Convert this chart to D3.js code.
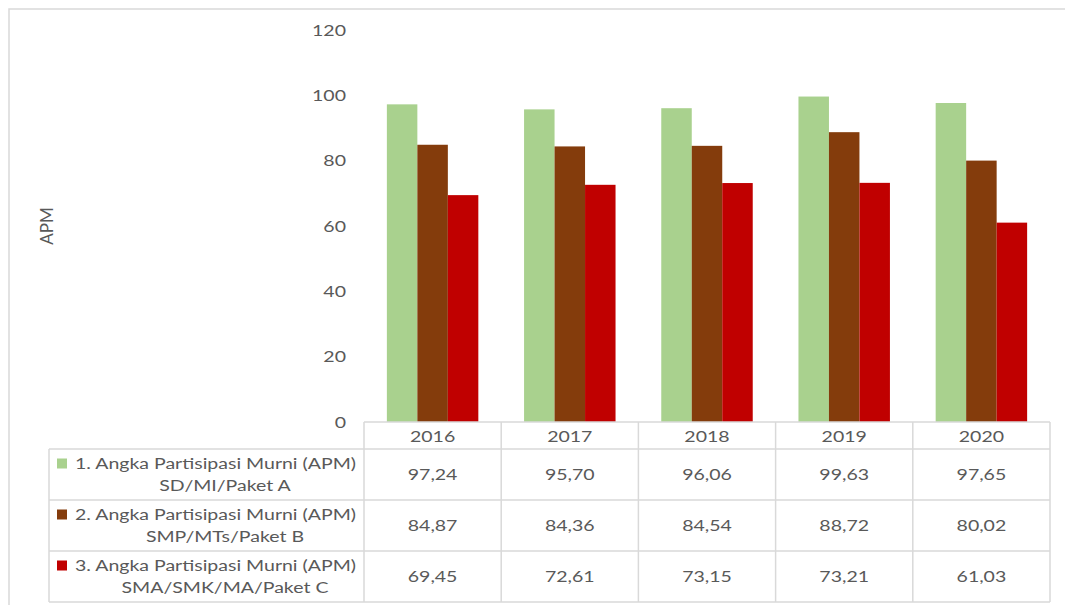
<!DOCTYPE html>
<html>
<head>
<meta charset="utf-8">
<script src="https://cdn.jsdelivr.net/npm/d3@7"></script>
<style>
  body { margin: 0; background: #fff; }
  svg { display: block; }
  text { font-family: Lato, "Open Sans", "Liberation Sans", sans-serif; fill: #595959; }
</style>
</head>
<body>
<svg id="chart" width="1065" height="605"></svg>
<script>
// Net enrolment rate (APM) by school level, 2016-2020
const years = ["2016", "2017", "2018", "2019", "2020"];
const seriesLabels = [
  ["1. Angka Partisipasi Murni (APM)", "SD/MI/Paket A"],
  ["2. Angka Partisipasi Murni (APM)", "SMP/MTs/Paket B"],
  ["3. Angka Partisipasi Murni (APM)", "SMA/SMK/MA/Paket C"]
];
const apmSD = [97.24, 95.70, 96.06, 99.63, 97.65];
const apmSMP = [84.87, 84.36, 84.54, 88.72, 80.02];
const apmSMA = [69.45, 72.61, 73.15, 73.21, 61.03];
const yTicks = [0, 20, 40, 60, 80, 100, 120];
const axisTitle = "APM";

const seriesValues = [apmSD, apmSMP, apmSMA];
const colors = ["#A9D18E", "#843C0C", "#C00000"];
const gridColor = "#D9D9D9";
const SX = 1.22;      // horizontal text stretch
const FS = 16;        // table / tick font size

const svg = d3.select("#chart");
const fmt = d3.formatLocale({ decimal: ",", thousands: ".", grouping: [3], currency: ["", ""] }).format(".2f");

// chart frame
svg.append("rect")
  .attr("x", 9).attr("y", 9).attr("width", 1100).attr("height", 700)
  .attr("fill", "none").attr("stroke", gridColor).attr("stroke-width", 1.5);

const plotLeft = 364, plotRight = 1050, plotTop = 30, plotBottom = 422;
const x = d3.scaleBand().domain(years).range([plotLeft, plotRight]);
const y = d3.scaleLinear().domain([0, 120]).range([plotBottom, plotTop]);

// clustered bars: gap width 150% of a bar
const groupW = x.bandwidth() * 3 / 4.5;
const xs = d3.scaleBand().domain(d3.range(seriesValues.length)).range([0, groupW]);
const groupOffset = (x.bandwidth() - groupW) / 2;

function label(parent, px, py, str, anchor) {
  return parent.append("text")
    .attr("transform", `translate(${px},${py}) scale(${SX},1)`)
    .attr("text-anchor", anchor)
    .attr("dy", "0.35em")
    .attr("font-size", FS)
    .text(str);
}

// y axis tick labels
const yAxis = svg.append("g");
yTicks.forEach(t => label(yAxis, 346, y(t), String(t), "end"));

// axis title
svg.append("text")
  .attr("transform", "translate(47,226) rotate(-90)")
  .attr("text-anchor", "middle")
  .attr("dy", "0.35em")
  .attr("font-size", 17)
  .text(axisTitle);

// bars
seriesValues.forEach((vals, si) => {
  svg.append("g").selectAll("rect")
    .data(vals)
    .join("rect")
    .attr("x", (d, i) => x(years[i]) + groupOffset + xs(si))
    .attr("width", xs.bandwidth())
    .attr("y", d => y(d))
    .attr("height", d => y(0) - y(d))
    .attr("fill", colors[si]);
});

// data table
const headerBottom = 449;
const rowH = 51;
const tableLeft = 49;
const tableBottom = headerBottom + rowH * seriesValues.length;
const grid = svg.append("g").attr("stroke", gridColor).attr("stroke-width", 1.5).attr("fill", "none");

// header row top (category axis line)
grid.append("line").attr("x1", plotLeft).attr("x2", plotRight).attr("y1", plotBottom).attr("y2", plotBottom);
// row separators
d3.range(seriesValues.length + 1).forEach(r => {
  const yy = headerBottom + r * rowH;
  grid.append("line").attr("x1", tableLeft).attr("x2", plotRight).attr("y1", yy).attr("y2", yy);
});
// left edge of legend column
grid.append("line").attr("x1", tableLeft).attr("x2", tableLeft).attr("y1", headerBottom).attr("y2", tableBottom);
// column separators
years.concat([null]).forEach((yr, i) => {
  const xx = yr === null ? plotRight : x(yr);
  grid.append("line").attr("x1", xx).attr("x2", xx).attr("y1", plotBottom).attr("y2", tableBottom);
});

// year headers
years.forEach(yr => label(svg, x(yr) + x.bandwidth() / 2, (plotBottom + headerBottom) / 2 + 0.5, yr, "middle"));

// rows: legend key, series name, values
seriesValues.forEach((vals, si) => {
  const top = headerBottom + si * rowH;
  svg.append("rect")
    .attr("x", 57).attr("y", top + 14.5 - 5).attr("width", 10).attr("height", 10)
    .attr("fill", colors[si]);
  label(svg, 75, top + 14.5, seriesLabels[si][0], "start");
  label(svg, 225, top + 36, seriesLabels[si][1], "middle");
  vals.forEach((v, i) => label(svg, x(years[i]) + x.bandwidth() / 2, top + rowH / 2, fmt(v), "middle"));
});
</script>
</body>
</html>
